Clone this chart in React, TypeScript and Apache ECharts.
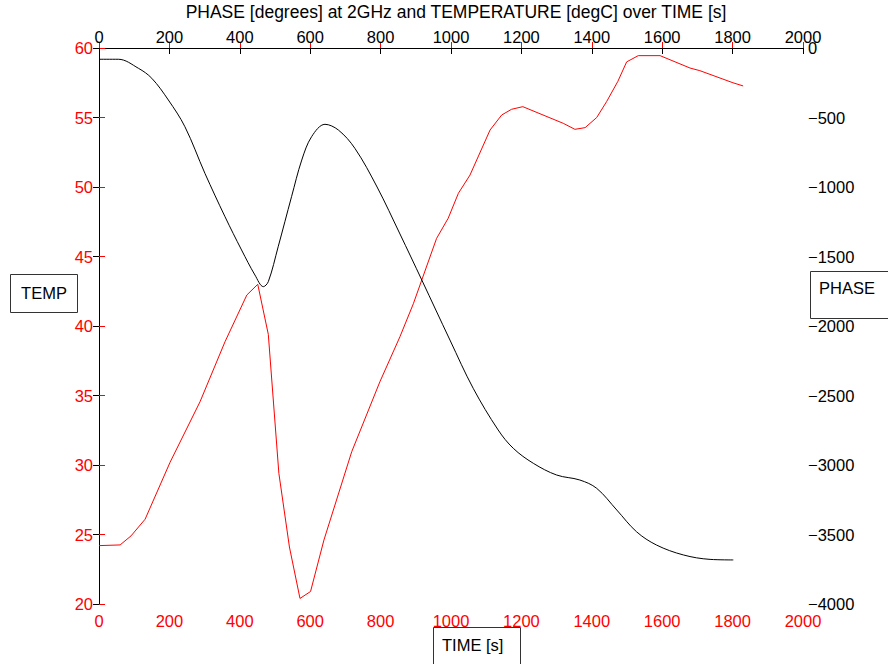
import React, { useEffect, useRef } from "react";
import * as echarts from "echarts";

const titleText = "PHASE [degrees] at 2GHz and TEMPERATURE [degC] over TIME [s]";
const tempTimes = [0, 60, 91, 131, 202, 287, 358, 420, 451, 481, 511, 541, 571, 601, 639, 718, 798, 855, 893, 959, 992, 1021, 1054, 1111, 1144, 1172, 1204, 1319, 1352, 1381, 1414, 1442, 1474, 1499, 1532, 1594, 1679, 1707, 1801, 1830];
const tempValues = [24.2, 24.25, 24.9, 26.1, 30.2, 34.55, 38.87, 42.23, 43.0, 39.4, 29.4, 24.1, 20.4, 20.9, 24.6, 30.96, 35.99, 39.23, 41.6, 46.3, 47.75, 49.55, 50.86, 54.1, 55.18, 55.59, 55.78, 54.58, 54.15, 54.27, 55.0, 56.14, 57.6, 59.0, 59.45, 59.45, 58.56, 58.37, 57.5, 57.27];
const phaseTimes = [0, 55, 112, 150, 197, 244, 301, 358, 405, 443, 467, 481, 509, 547, 576, 604, 642, 680, 727, 790, 855, 917, 997, 1063, 1134, 1177, 1234, 1300, 1366, 1414, 1471, 1527, 1584, 1660, 1736, 1802];
const phaseValues = [-81, -81, -146, -218, -374, -566, -902, -1214, -1453, -1633, -1717, -1681, -1430, -1070, -806, -638, -549, -590, -722, -1000, -1338, -1669, -2101, -2448, -2748, -2880, -2988, -3072, -3108, -3168, -3324, -3480, -3576, -3647, -3679, -3683];

const FONT = "'Liberation Sans', Arial, Helvetica, sans-serif";

export default function App() {
  const ref = useRef<HTMLDivElement>(null);
  useEffect(() => {
    if (!ref.current) return;
    const chart = echarts.init(ref.current, null, { renderer: "svg" });
    const tempData = tempTimes.map((t, i) => [t, tempValues[i]]);
    const phaseData = phaseTimes.map((t, i) => [t, phaseValues[i]]);
    const red = "#ff0000";
    const black = "#000000";
    const fmtPlain = (v: number) => String(v);
    const fmtMinus = (v: number) => String(v).replace("-", "\u2212");
    const LS = 16.5;
    chart.setOption({
      animation: false,
      backgroundColor: "#ffffff",
      textStyle: { fontFamily: FONT },
      title: {
        text: titleText,
        left: 451,
        textAlign: "center",
        top: 0,
        padding: [2, 5, 0, 5],
        textStyle: { fontFamily: FONT, fontSize: 17.5, lineHeight: 20, fontWeight: "normal", color: black },
      },
      grid: { left: 99, right: 85, top: 48, bottom: 60, containLabel: false },
      xAxis: [
        {
          type: "value",
          position: "bottom",
          min: 0,
          max: 2000,
          interval: 200,
          axisLine: { show: true, lineStyle: { color: red, width: 1 } },
          axisTick: { show: true, inside: true, length: 6, lineStyle: { color: red } },
          axisLabel: { color: red, fontSize: LS, fontFamily: FONT, margin: 8, formatter: fmtPlain },
          splitLine: { show: false },
        },
        {
          type: "value",
          position: "top",
          min: 0,
          max: 2000,
          interval: 200,
          axisLine: { show: true, lineStyle: { color: black, width: 1 } },
          axisTick: { show: true, inside: true, length: 6, lineStyle: { color: black } },
          axisLabel: { color: black, fontSize: LS, fontFamily: FONT, margin: 3, formatter: fmtPlain },
          splitLine: { show: false },
        },
      ],
      yAxis: [
        {
          type: "value",
          position: "left",
          min: 20,
          max: 60,
          interval: 5,
          axisLine: { show: true, lineStyle: { color: red, width: 1 } },
          axisTick: { show: true, inside: true, length: 6, lineStyle: { color: red } },
          axisLabel: { color: red, fontSize: LS, fontFamily: FONT, margin: 6, formatter: fmtPlain },
          splitLine: { show: false },
        },
        {
          type: "value",
          position: "right",
          min: -4000,
          max: 0,
          interval: 500,
          axisLine: { show: true, lineStyle: { color: black, width: 1 } },
          axisTick: { show: true, inside: true, length: 6, lineStyle: { color: black } },
          axisLabel: { color: black, fontSize: LS, fontFamily: FONT, margin: 5, formatter: fmtMinus },
          splitLine: { show: false },
        },
      ],
      series: [
        {
          name: "TEMP",
          type: "line",
          xAxisIndex: 0,
          yAxisIndex: 0,
          data: tempData,
          showSymbol: false,
          lineStyle: { color: red, width: 1 },
          itemStyle: { color: red },
        },
        {
          name: "PHASE",
          type: "line",
          xAxisIndex: 1,
          yAxisIndex: 1,
          data: phaseData,
          smooth: 0.35,
          showSymbol: false,
          lineStyle: { color: black, width: 1 },
          itemStyle: { color: black },
        },
      ],
      graphic: [
        {
          type: "group",
          children: [
            { type: "rect", shape: { x: 10.5, y: 274.5, width: 67, height: 38 }, style: { fill: "#fff", stroke: "#333", lineWidth: 1 } },
            { type: "text", x: 44, y: 293, style: { text: "TEMP", font: `16.5px ${FONT}`, fill: black, align: "center", verticalAlign: "middle" } },
            { type: "rect", shape: { x: 810.5, y: 271.5, width: 90, height: 47 }, style: { fill: "#fff", stroke: "#333", lineWidth: 1 } },
            { type: "text", x: 819, y: 288, style: { text: "PHASE", font: `16.5px ${FONT}`, fill: black, align: "left", verticalAlign: "middle" } },
            { type: "rect", shape: { x: 433.5, y: 627.5, width: 87, height: 50 }, style: { fill: "#fff", stroke: "#333", lineWidth: 1 } },
            { type: "text", x: 442, y: 645, style: { text: "TIME [s]", font: `16.5px ${FONT}`, fill: black, align: "left", verticalAlign: "middle" } },
          ],
        },
      ],
    });
    return () => chart.dispose();
  }, []);
  return <div ref={ref} style={{ position: "fixed", left: 0, top: 0, width: 888, height: 664 }} />;
}
